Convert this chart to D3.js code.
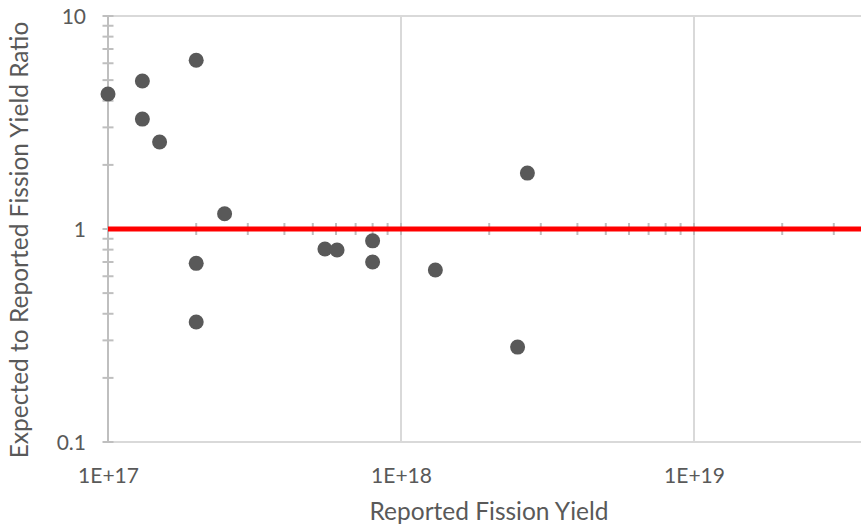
<!DOCTYPE html>
<html lang="en">
<head>
<meta charset="UTF-8"/>
<title>Fission yield ratio</title>
<script src="https://d3js.org/d3.v7.min.js" charset="utf-8"></script>
<style type="text/css">
    body { margin: 0; background: #fff; }
    text {
        font-family: Lato, "Liberation Sans", sans-serif;
        fill: #595959;
    }
    .tick-label { font-size: 21px; }
    .axis-title { font-size: 24.5px; }
    .grid line { stroke: #d9d9d9; stroke-width: 2px; }
    .minor line { stroke: #bfbfbf; stroke-width: 2px; }
</style>
</head>
<body>
<script type="text/javascript">
    // data
    var reportedYield = [1.0e17, 1.31e17, 1.31e17, 1.5e17, 2.0e17, 2.5e17, 2.0e17, 2.0e17,
                         5.5e17, 6.05e17, 8.0e17, 8.0e17, 1.31e18, 2.5e18, 2.7e18];
    var ratio = [4.30, 4.95, 3.28, 2.56, 6.2, 1.18, 0.69, 0.366,
                 0.805, 0.797, 0.88, 0.70, 0.642, 0.279, 1.83];
    var unityX = [1e17, 1e20];
    var unityY = [1, 1];
    var xTicks = [1e17, 1e18, 1e19];
    var xTickLabels = ["1E+17", "1E+18", "1E+19"];
    var yTicks = [0.1, 1, 10];
    var yTickLabels = ["0.1", "1", "10"];

    var width = 861, height = 529;

    var svg = d3.select("body").append("svg")
        .attr("width", width)
        .attr("height", height);

    // log scales, one decade = 293px across, 213px up
    var x = d3.scaleLog().domain([1e17, 1e20]).range([108, 987]);
    var y = d3.scaleLog().domain([0.1, 10]).range([442, 16]);

    // gridlines
    var grid = svg.append("g").attr("class", "grid");
    grid.selectAll(".h").data(yTicks).enter().append("line")
        .attr("x1", x(1e17)).attr("x2", width)
        .attr("y1", function (d) { return y(d); })
        .attr("y2", function (d) { return y(d); });
    grid.selectAll(".v").data(xTicks.slice(1)).enter().append("line")
        .attr("x1", function (d) { return x(d); })
        .attr("x2", function (d) { return x(d); })
        .attr("y1", y(10)).attr("y2", y(0.1));

    // axis lines + minor ticks crossing them
    var minor = svg.append("g").attr("class", "minor");
    minor.append("line")
        .attr("x1", x(1e17)).attr("x2", x(1e17))
        .attr("y1", y(10)).attr("y2", y(0.1));
    minor.append("line")
        .attr("x1", x(1e17)).attr("x2", width)
        .attr("y1", y(1)).attr("y2", y(1));
    minor.selectAll(".ty").data(y.ticks()).enter().append("line")
        .attr("x1", x(1e17) - 5.5).attr("x2", x(1e17) + 5.5)
        .attr("y1", function (d) { return y(d); })
        .attr("y2", function (d) { return y(d); });
    minor.selectAll(".tx").data(x.ticks().filter(function (d) { return d > 1e17; })).enter().append("line")
        .attr("x1", function (d) { return x(d); })
        .attr("x2", function (d) { return x(d); })
        .attr("y1", y(1) - 6).attr("y2", y(1) + 6);

    // tick labels through d3 axes (labels sit low / left of plot)
    var yAxis = d3.axisLeft(y).tickValues(yTicks).tickSize(0).tickPadding(0)
        .tickFormat(function (d, i) { return yTickLabels[i]; });
    var gy = svg.append("g").attr("transform", "translate(86,0)").call(yAxis)
        .attr("font-family", null).attr("font-size", null);
    gy.select(".domain").remove();
    gy.selectAll("text").attr("class", "tick-label")
        .attr("fill", "#595959").attr("dy", "0.36em");

    var xAxis = d3.axisBottom(x).tickValues(xTicks).tickSize(0).tickPadding(0)
        .tickFormat(function (d, i) { return xTickLabels[i]; });
    var gx = svg.append("g").attr("transform", "translate(0,483)").call(xAxis)
        .attr("font-family", null).attr("font-size", null);
    gx.select(".domain").remove();
    gx.selectAll("text").attr("class", "tick-label")
        .attr("fill", "#595959").attr("dy", 0).attr("y", 0);

    // red unity line
    svg.append("path")
        .datum(d3.zip(unityX, unityY))
        .attr("fill", "none")
        .attr("stroke", "#ff0000")
        .attr("stroke-width", 5)
        .attr("d", d3.line()
            .x(function (d) { return x(d[0]); })
            .y(function (d) { return y(d[1]); }));

    // dots
    svg.append("g").selectAll("circle")
        .data(d3.zip(reportedYield, ratio))
        .enter().append("circle")
        .attr("cx", function (d) { return x(d[0]); })
        .attr("cy", function (d) { return y(d[1]); })
        .attr("r", 7.5)
        .style("fill", "#595959");

    // axis titles
    svg.append("text").attr("class", "axis-title")
        .attr("x", 489).attr("y", 520)
        .attr("text-anchor", "middle")
        .text("Reported Fission Yield");
    svg.append("text").attr("class", "axis-title")
        .attr("transform", "translate(28,240) rotate(-90)")
        .attr("text-anchor", "middle")
        .text("Expected to Reported Fission Yield Ratio");
</script>
</body>
</html>
